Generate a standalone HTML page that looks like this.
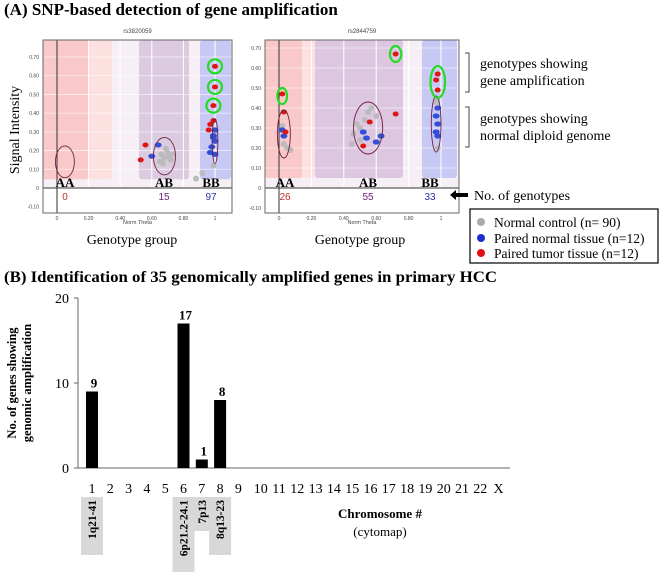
<!DOCTYPE html>
<html><head><meta charset="utf-8">
<style>
html,body{margin:0;padding:0;background:#fff;}
svg{display:block;font-family:"Liberation Serif",serif;}
.sans{font-family:"Liberation Sans",sans-serif;}
</style></head>
<body>
<svg id="fig" width="670" height="576" viewBox="0 0 670 576" xmlns="http://www.w3.org/2000/svg">
<text x="4" y="15" font-size="17" font-weight="bold">(A) SNP-based detection of gene amplification</text>
<g id="plotA1"></g>
<g id="plotA2"></g>
<text transform="translate(19,130) rotate(-90)" font-size="14" text-anchor="middle">Signal Intensity</text>
<text x="132" y="244" font-size="14" text-anchor="middle">Genotype group</text>
<text x="360" y="244" font-size="14" text-anchor="middle">Genotype group</text>
<path d="M465,53 h4 v39 h-4" fill="none" stroke="#444" stroke-width="1"/>
<path d="M465,107 h4 v40 h-4" fill="none" stroke="#444" stroke-width="1"/>
<text x="480" y="68" font-size="14"><tspan x="480">genotypes showing</tspan><tspan x="480" dy="17">gene amplification</tspan></text>
<text x="480" y="123" font-size="14"><tspan x="480">genotypes showing</tspan><tspan x="480" dy="17">normal diploid genome</tspan></text>
<path d="M450,195 L456,190 V193 H468 V197 H456 V200 Z" fill="#000"/>
<text x="474" y="200" font-size="14">No. of genotypes</text>
<g>
<rect x="470" y="209" width="188" height="54" fill="#fff" stroke="#000" stroke-width="1.2"/>
<circle cx="481" cy="222" r="4" fill="#aaa"/><text x="494" y="227" font-size="13.5">Normal control (n= 90)</text>
<circle cx="481" cy="238" r="4" fill="#1a2fd0"/><text x="494" y="243" font-size="13.5">Paired normal tissue (n=12)</text>
<circle cx="481" cy="253" r="4" fill="#e01010"/><text x="494" y="258" font-size="13.5">Paired tumor tissue (n=12)</text>
</g>
<text x="4" y="282" font-size="16" font-weight="bold" textLength="493" lengthAdjust="spacingAndGlyphs">(B) Identification of 35 genomically amplified genes in primary HCC</text>
<g id="chartB"></g>
<text transform="translate(16,383) rotate(-90)" font-size="12.5" font-weight="bold" text-anchor="middle">No. of genes showing</text>
<text transform="translate(31,383) rotate(-90)" font-size="12.5" font-weight="bold" text-anchor="middle">genomic amplification</text>
<text x="380" y="518" font-size="13" font-weight="bold" text-anchor="middle">Chromosome #</text>
<text x="380" y="536" font-size="13" text-anchor="middle">(cytomap)</text>
</svg>
<script>
// ---- Panel B data ----
const chromosomes = ["1","2","3","4","5","6","7","8","9","10","11","12","13","14","15","16","17","18","19","20","21","22","X"];
const geneCounts = [9,0,0,0,0,17,1,8,0,0,0,0,0,0,0,0,0,0,0,0,0,0,0];
const yTicks = [0,10,20];
const cytomapChrom = ["1","6","7","8"];
const cytomapBands = ["1q21-41","6p21.2-24.1","7p13","8q13-23"];
// ---- Panel A data (norm theta, signal intensity) ----
const p1Gray = [[0.66,0.18],[0.68,0.16],[0.7,0.19],[0.72,0.15],[0.65,0.14],[0.69,0.21],[0.71,0.17],[0.67,0.13],[0.73,0.18],[0.92,0.08],[0.88,0.05],[0.99,0.12]];
const p1Blue = [[0.6,0.17],[0.64,0.23],[1.0,0.31],[0.99,0.28],[1.0,0.25],[0.98,0.22],[0.97,0.19],[1.0,0.18],[0.99,0.27]];
const p1Red = [[1.0,0.65],[1.0,0.54],[0.99,0.44],[0.99,0.36],[0.97,0.34],[0.96,0.31],[0.56,0.23],[0.53,0.15]];
const p1Amp = [[1.0,0.65],[1.0,0.54],[0.99,0.44]];
const p1Ell = [[0.05,0.14,0.06,0.085],[0.68,0.17,0.07,0.1],[1.0,0.25,0.018,0.12]];
const p2Gray = [[0.03,0.22],[0.05,0.2],[0.02,0.31],[0.07,0.19],[0.48,0.32],[0.5,0.3],[0.53,0.34],[0.46,0.27],[0.55,0.38],[0.5,0.24],[0.6,0.36],[0.45,0.22],[0.57,0.4],[0.97,0.43],[0.98,0.2]];
const p2Blue = [[0.02,0.29],[0.03,0.26],[0.52,0.28],[0.54,0.25],[0.6,0.23],[0.63,0.26],[0.98,0.4],[0.97,0.36],[0.98,0.32],[0.97,0.28],[0.98,0.26]];
const p2Red = [[0.02,0.47],[0.03,0.38],[0.04,0.28],[0.72,0.67],[0.72,0.37],[0.56,0.33],[0.52,0.21],[0.98,0.57],[0.97,0.54],[0.98,0.49]];
const p2Amp = [[0.02,0.46,0.03,0.04],[0.72,0.67,0.035,0.04],[0.98,0.53,0.045,0.08]];
const p2Ell = [[0.03,0.27,0.04,0.12],[0.55,0.3,0.09,0.13],[0.97,0.32,0.03,0.14]];
const p1Counts = ["0","15","97"], p2Counts = ["26","55","33"];
const NS="http://www.w3.org/2000/svg";
function mk(parent,tag,attrs,text){const e=document.createElementNS(NS,tag);for(const k in attrs)e.setAttribute(k,attrs[k]);if(text!==undefined)e.textContent=text;parent.appendChild(e);return e;}

function scatter(g,cfg,gray,blue,red,ell,amp,counts,title){
  const X=t=>cfg.x0+t*(cfg.x1-cfg.x0);
  const Y=v=>cfg.y0-v*(cfg.y0-cfg.y7)/0.7;
  const L=cfg.left,R=cfg.right,T=40,B=213;
  mk(g,'rect',{x:L,y:T,width:R-L,height:B-T,fill:'#f6f0f6'});
  cfg.bands.forEach(b=>{mk(g,'rect',{x:b[0],y:T,width:b[1]-b[0],height:Y(0.1)-T+10,fill:b[2],rx:3});});
  [0,0.2,0.4,0.6,0.8,1].forEach(t=>mk(g,'line',{x1:X(t),x2:X(t),y1:T,y2:B,stroke:'#fff','stroke-width':1}));
  for(let v=-0.1;v<=0.71;v+=0.1)mk(g,'line',{x1:L,x2:R,y1:Y(v),y2:Y(v),stroke:'rgba(255,255,255,0.7)','stroke-width':0.8});
  mk(g,'rect',{x:L,y:Y(0),width:R-L,height:B-Y(0),fill:'#fff'});
  mk(g,'line',{x1:X(0),x2:X(0),y1:T,y2:B,stroke:'#333','stroke-width':1});
  mk(g,'line',{x1:L,x2:R,y1:Y(0),y2:Y(0),stroke:'#333','stroke-width':1});
  mk(g,'rect',{x:L,y:T,width:R-L,height:B-T,fill:'none',stroke:'#666','stroke-width':1});
  const tl=mk(g,'text',{x:(L+R)/2,y:33,'font-size':6,'text-anchor':'middle',class:'sans',fill:'#444'},title);
  
  
  ["-0.10","0","0.10","0.20","0.30","0.40","0.50","0.60","0.70"].forEach((s,i)=>{const v=-0.1+i*0.1;mk(g,'text',{x:L-4,y:Y(v)+2,'font-size':5,'text-anchor':'end',class:'sans',fill:'#444'},s);});
  ["0","0.20","0.40","0.60","0.80","1"].forEach((s,i)=>mk(g,'text',{x:X(i*0.2),y:B+7,'font-size':5,'text-anchor':'middle',class:'sans',fill:'#444'},s));
  mk(g,'text',{x:(L+R)/2,y:B+11,'font-size':5.5,'text-anchor':'middle',class:'sans',fill:'#444'},'Norm Theta');
  gray.forEach(p=>mk(g,'circle',{cx:X(p[0]),cy:Y(p[1]),r:3,fill:'#bbb'}));
  blue.forEach(p=>mk(g,'ellipse',{cx:X(p[0]),cy:Y(p[1]),rx:3.5,ry:2.6,fill:'#3050d8'}));
  red.forEach(p=>mk(g,'ellipse',{cx:X(p[0]),cy:Y(p[1]),rx:3,ry:2.5,fill:'#dd1515'}));
  ell.forEach(e=>mk(g,'ellipse',{cx:X(e[0]),cy:Y(e[1]),rx:e[2]*(cfg.x1-cfg.x0),ry:e[3]*(cfg.y0-cfg.y7)/0.7,fill:'none',stroke:'#702040','stroke-width':0.9}));
  amp.forEach(a=>{const c=mk(g,'ellipse',{cx:X(a[0]),cy:Y(a[1]),rx:a[2]?a[2]*(cfg.x1-cfg.x0):7,ry:a[3]?a[3]*(cfg.y0-cfg.y7)/0.7:7,fill:'none',stroke:'#22dd22','stroke-width':2.2});
    
    });
  const lbl=["AA","AB","BB"],cols=['#c03030','#702070','#3030a0'];
  cfg.labelX.forEach((lx,i)=>{
    const t=mk(g,'text',{x:lx,y:Y(0)-1,'font-size':13,'font-weight':'bold','text-anchor':'middle'},lbl[i]);
    
    
    const c=mk(g,'text',{x:lx,y:Y(0)+12,'font-size':10,'text-anchor':'middle',class:'sans',fill:cols[i]},counts[i]);
    
    
  });
}
scatter(document.getElementById('plotA1'),{left:43,right:232,x0:57,x1:215,y0:188,y7:57,
  bands:[[43,112,'#fde0e0'],[43,88,'#f9c8c8'],[139,189,'#dccbe0'],[200,231,'#c8c8f4']],labelX:[65,164,211]},
  p1Gray,p1Blue,p1Red,p1Ell,p1Amp,p1Counts,'rs3820059');
scatter(document.getElementById('plotA2'),{left:265,right:459,x0:279,x1:441,y0:188,y7:48,
  bands:[[265,315,'#fde0e0'],[265,302,'#f9c8c8'],[315,403,'#dcc6e0'],[422,457,'#c8c8f4']],labelX:[285,368,430]},
  p2Gray,p2Blue,p2Red,p2Ell,p2Amp,p2Counts,'rs2844759');

// ---- Panel B ----
(function(){
  const g=document.getElementById('chartB');
  const xOf=i=>92+i*18.3, yOf=v=>468-v*8.5;
  const ax=mk(g,'line',{x1:78,x2:510,y1:468,y2:468,stroke:'#666','stroke-width':1});
  
  
  const ay=mk(g,'line',{x1:78,x2:78,y1:yOf(20),y2:468,stroke:'#666','stroke-width':1});
  
  
  yTicks.forEach(v=>{mk(g,'line',{x1:74,x2:78,y1:yOf(v),y2:yOf(v),stroke:'#666'});
    const t=mk(g,'text',{x:69,y:yOf(v)+5,'font-size':14,'text-anchor':'end'},String(v));
    
    });
  chromosomes.forEach((c,i)=>{
    const t=mk(g,'text',{x:xOf(i)+(i>=9?4:0),y:493,'font-size':14,'text-anchor':'middle'},c);
    
    
    const v=geneCounts[i];
    if(v>0){
      const b=mk(g,'rect',{x:xOf(i)-6,y:yOf(v),width:12,height:468-yOf(v),fill:'#000'});
      
      
      const l=mk(g,'text',{x:xOf(i)+2,y:yOf(v)-4,'font-size':13,'font-weight':'bold','text-anchor':'middle'},String(v));
      
      
    }
  });
  const heights=[58,75,34,58];
  cytomapChrom.forEach((c,k)=>{
    const i=chromosomes.indexOf(c), cx=xOf(i);
    const r=mk(g,'rect',{x:cx-11,y:497,width:22,height:heights[k],fill:'#d8d8d8'});
    
    
    const t=mk(g,'text',{transform:'translate('+(cx+4)+','+(500)+') rotate(-90)','font-size':11.5,'font-weight':'bold','text-anchor':'end'},cytomapBands[k]);
    
    
  });
})();
</script>
</body></html>
